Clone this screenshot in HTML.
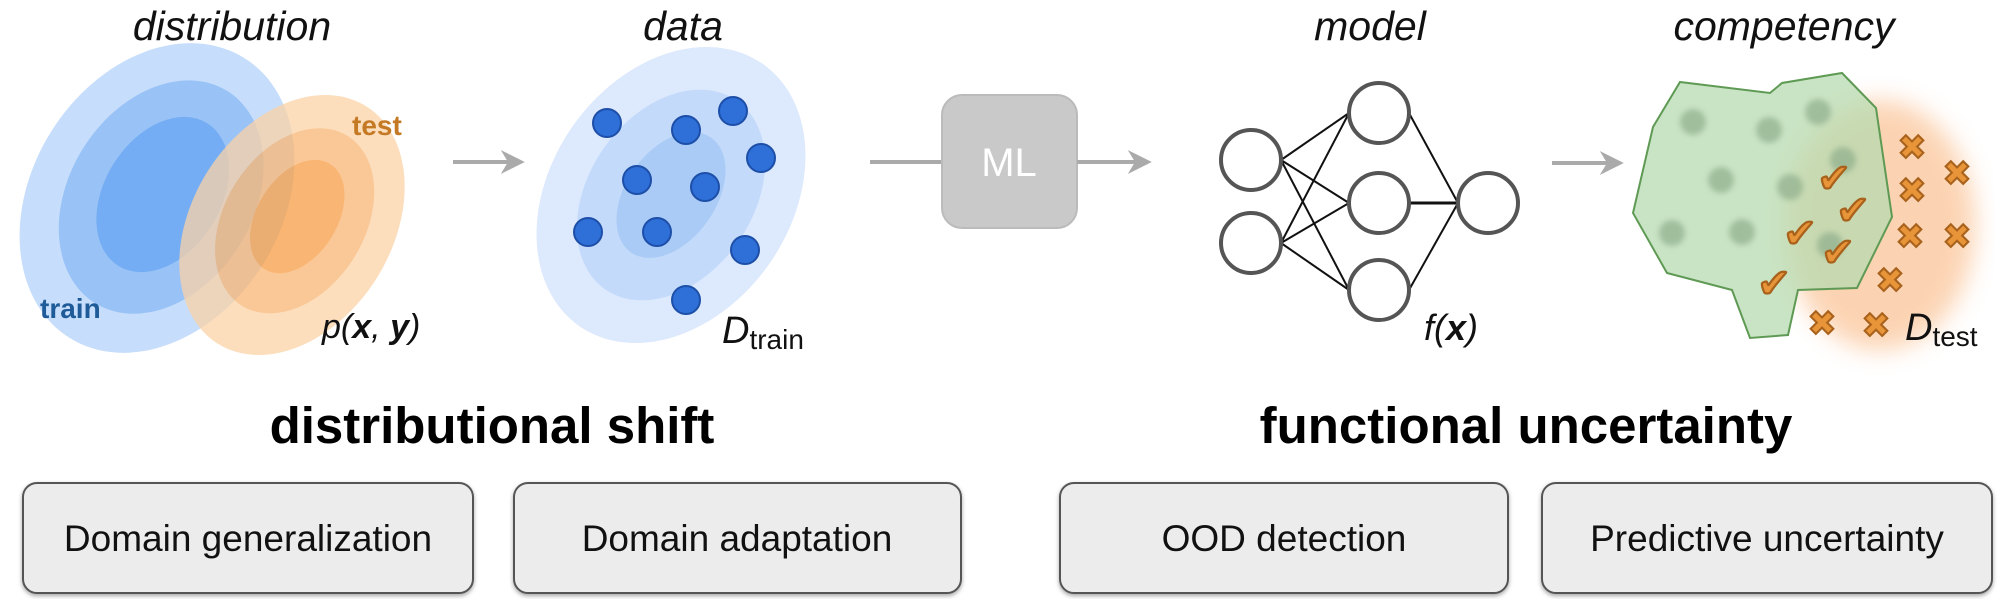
<!DOCTYPE html>
<html><head><meta charset="utf-8"><style>
html,body{margin:0;padding:0;background:#fff;}
svg{display:block;}
text{font-family:"Liberation Sans",sans-serif;}
</style></head><body>
<svg width="2014" height="599" viewBox="0 0 2014 599" xmlns="http://www.w3.org/2000/svg">
<defs>
<filter id="blur"><feGaussianBlur stdDeviation="12"/></filter>
<filter id="b2"><feGaussianBlur stdDeviation="3"/></filter>
<marker id="ah" viewBox="0 0 10 10" refX="8" refY="5" markerWidth="6" markerHeight="6" orient="auto"><path d="M0,0 L10,5 L0,10 L3,5z" fill="#aaa"/></marker>
<filter id="sh"><feDropShadow dx="0" dy="2" stdDeviation="2" flood-opacity="0.35"/></filter>
</defs>
<g font-style="italic" font-size="41" fill="#111" text-anchor="middle">
<text x="232" y="40">distribution</text>
<text x="683" y="40">data</text>
<text x="1370" y="40">model</text>
<text x="1784" y="40">competency</text>
</g>
<g transform="rotate(32 157 198)">
<ellipse cx="157" cy="198" rx="125" ry="165" fill="#bcd7fa" opacity="0.85"/>
<ellipse cx="160" cy="195" rx="92" ry="125" fill="#8dbcf5" opacity="0.8"/>
<ellipse cx="160" cy="192" rx="58" ry="84" fill="#6aa8f2" opacity="0.8"/>
</g>
<g transform="rotate(32 292 225)" opacity="0.75">
<ellipse cx="292" cy="225" rx="100" ry="140" fill="#fbd3a8"/>
<ellipse cx="292" cy="220" rx="70" ry="100" fill="#f9b673"/>
<ellipse cx="292" cy="215" rx="40" ry="62" fill="#f79d45"/>
</g>
<text x="40" y="318" font-weight="bold" font-size="28" fill="#1f5b98">train</text>
<text x="352" y="135" font-weight="bold" font-size="28" fill="#c47a24">test</text>
<text x="322" y="338" font-family="Liberation Serif,serif" font-style="italic" font-size="34" fill="#111">p(<tspan font-weight="bold">x</tspan>, <tspan font-weight="bold">y</tspan>)</text>
<line x1="453" y1="162" x2="520" y2="162" stroke="#aaa" stroke-width="4" marker-end="url(#ah)"/>
<g transform="rotate(35 671 195)">
<ellipse cx="671" cy="195" rx="120" ry="160" fill="#dde9fc"/>
<ellipse cx="671" cy="195" rx="82" ry="115" fill="#c3dafa"/>
<ellipse cx="671" cy="195" rx="45" ry="70" fill="#a9cbf6"/>
</g>
<g fill="#2f6fd8" stroke="#1d4fa8" stroke-width="2">
<circle cx="607" cy="123" r="14"/><circle cx="686" cy="130" r="14"/><circle cx="733" cy="111" r="14"/>
<circle cx="761" cy="158" r="14"/><circle cx="637" cy="180" r="14"/><circle cx="705" cy="187" r="14"/>
<circle cx="588" cy="232" r="14"/><circle cx="657" cy="232" r="14"/><circle cx="745" cy="250" r="14"/>
<circle cx="686" cy="300" r="14"/>
</g>
<text x="722" y="343" font-family="Liberation Serif,serif" font-style="italic" font-size="38" fill="#111">D<tspan font-style="normal" font-size="28" dy="6">train</tspan></text>
<line x1="870" y1="162" x2="942" y2="162" stroke="#aaa" stroke-width="4"/>
<rect x="942" y="95" width="135" height="133" rx="20" fill="#c9c9c9" stroke="#bbb" stroke-width="2"/>
<text x="1009" y="176" text-anchor="middle" font-size="40" fill="#fff">ML</text>
<line x1="1077" y1="162" x2="1147" y2="162" stroke="#aaa" stroke-width="4" marker-end="url(#ah)"/>
<g stroke="#111" stroke-width="2">
<line x1="1281" y1="160" x2="1349" y2="113"/><line x1="1281" y1="160" x2="1349" y2="203"/><line x1="1281" y1="160" x2="1349" y2="290"/>
<line x1="1281" y1="243" x2="1349" y2="113"/><line x1="1281" y1="243" x2="1349" y2="203"/><line x1="1281" y1="243" x2="1349" y2="290"/>
<line x1="1409" y1="113" x2="1458" y2="203"/><line x1="1409" y1="203" x2="1458" y2="203" stroke-width="3"/><line x1="1409" y1="290" x2="1458" y2="203"/>
</g>
<g fill="#fff" stroke="#555" stroke-width="4">
<circle cx="1251" cy="160" r="30"/><circle cx="1251" cy="243" r="30"/>
<circle cx="1379" cy="113" r="30"/><circle cx="1379" cy="203" r="30"/><circle cx="1379" cy="290" r="30"/>
<circle cx="1488" cy="203" r="30"/>
</g>
<text x="1424" y="340" font-family="Liberation Serif,serif" font-style="italic" font-size="36" fill="#111">f(<tspan font-weight="bold">x</tspan>)</text>
<line x1="1552" y1="163" x2="1619" y2="163" stroke="#aaa" stroke-width="4" marker-end="url(#ah)"/>
<ellipse cx="1880" cy="225" rx="95" ry="125" fill="#fbc9a0" opacity="0.8" filter="url(#blur)"/>
<polygon points="1680,82 1770,93 1782,83 1842,73 1876,108 1892,217 1857,288 1798,290 1788,335 1750,338 1732,290 1667,273 1633,213 1653,127" fill="#b7dbb0" fill-opacity="0.75" stroke="#5f9a55" stroke-width="2"/>
<g fill="#8fae8c" opacity="0.7" filter="url(#b2)">
<circle cx="1693" cy="122" r="13"/><circle cx="1769" cy="130" r="13"/><circle cx="1818" cy="112" r="13"/>
<circle cx="1721" cy="180" r="13"/><circle cx="1790" cy="187" r="13"/><circle cx="1672" cy="233" r="13"/>
<circle cx="1742" cy="232" r="13"/><circle cx="1843" cy="160" r="13"/><circle cx="1830" cy="245" r="13"/>
</g>
<g font-size="40" font-weight="bold" fill="#e8953a" stroke="#a8621c" stroke-width="1" text-anchor="middle">
<text x="1834" y="192">✔</text><text x="1853" y="224">✔</text><text x="1800" y="247">✔</text><text x="1838" y="266">✔</text><text x="1774" y="297">✔</text>
</g>
<g font-size="34" font-weight="bold" fill="#e8953a" stroke="#a8621c" stroke-width="1" text-anchor="middle">
<text x="1912" y="159">✖</text><text x="1957" y="185">✖</text><text x="1912" y="202">✖</text><text x="1910" y="248">✖</text><text x="1957" y="248">✖</text><text x="1890" y="292">✖</text><text x="1822" y="335">✖</text><text x="1876" y="337">✖</text>
</g>
<text x="1905" y="340" font-family="Liberation Serif,serif" font-style="italic" font-size="38" fill="#111">D<tspan font-style="normal" font-size="28" dy="6">test</tspan></text>
<text x="492" y="443" text-anchor="middle" font-weight="bold" font-size="51" fill="#000">distributional shift</text>
<text x="1526" y="443" text-anchor="middle" font-weight="bold" font-size="51" fill="#000">functional uncertainty</text>
<g fill="#ececec" stroke="#555" stroke-width="2" filter="url(#sh)">
<rect x="23" y="483" width="450" height="110" rx="14"/>
<rect x="514" y="483" width="447" height="110" rx="14"/>
<rect x="1060" y="483" width="448" height="110" rx="14"/>
<rect x="1542" y="483" width="450" height="110" rx="14"/>
</g>
<g font-size="37" fill="#111" text-anchor="middle">
<text x="248" y="551">Domain generalization</text>
<text x="737" y="551">Domain adaptation</text>
<text x="1284" y="551">OOD detection</text>
<text x="1767" y="551">Predictive uncertainty</text>
</g>
</svg>
</body></html>
